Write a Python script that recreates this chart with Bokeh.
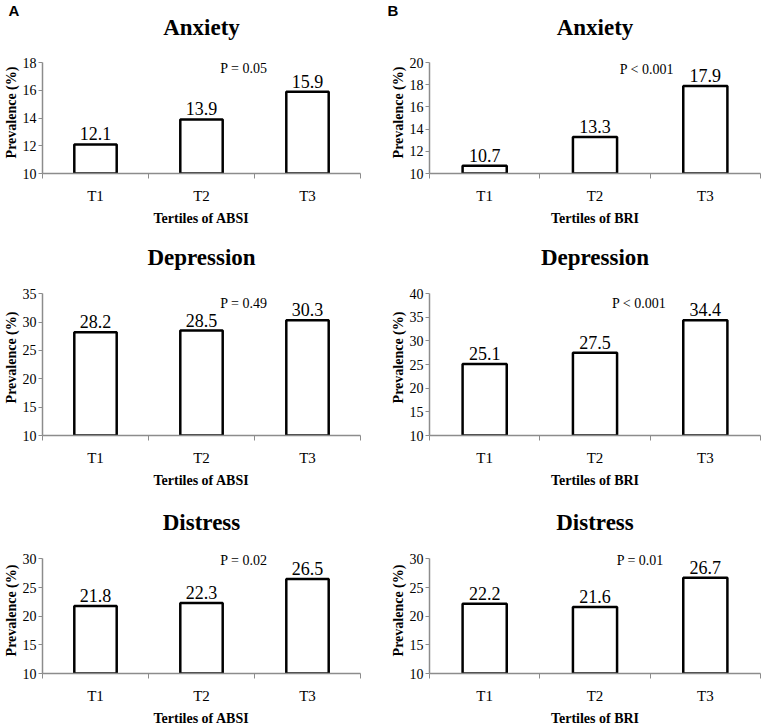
from bokeh.plotting import figure
from bokeh.models import Range1d, FixedTicker, Title, ColumnDataSource, Label
from bokeh.layouts import column, row
from bokeh.embed import file_html
from bokeh.resources import INLINE
from bokeh.core.properties import value

# ---------------- data ----------------
tertiles = ["T1", "T2", "T3"]
outcomes = ["Anxiety", "Depression", "Distress"]

absi_anxiety = [12.1, 13.9, 15.9]
absi_depression = [28.2, 28.5, 30.3]
absi_distress = [21.8, 22.3, 26.5]

bri_anxiety = [10.7, 13.3, 17.9]
bri_depression = [25.1, 27.5, 34.4]
bri_distress = [22.2, 21.6, 26.7]

p_absi = ["P = 0.05", "P = 0.49", "P = 0.02"]
p_bri = ["P < 0.001", "P < 0.001", "P = 0.01"]

y_base = 10
y_max_absi = [18, 35, 30]
y_max_bri = [20, 40, 30]
y_step_absi = [2, 5, 5]
y_step_bri = [2, 5, 5]

# ---------------- layout / style ----------------
SERIF = "Liberation Serif"
AXIS_GREY = "#8c8c8c"
ROW_H = [240, 250, 238]
TOP_B = [51, 39, 57]
BOT_B = [67, 54, 53]
PAD = 0.10                       # empty plot area above the axis top (fraction)
TITLE_STANDOFF = [-10, 0, 0]
SPACER_STANDOFF = [14, 7, 10]    # gap between title and plot area
LETTER_STANDOFF = -3
COL_W = 384
LEFT_B = [36, 45]
RIGHT_B = [24, 8]
P_X = [[1.90, 1.90, 1.90], [1.97, 1.90, 1.91]]
P_YFRAC = [[0.945, 0.93, 0.99], [0.937, 0.93, 0.99]]


def make_panel(ci, ri, title, vals, ptxt, ymax, ystep, xlabel, letter=None):
    n = len(tertiles)
    span = ymax - y_base
    p = figure(width=COL_W, height=ROW_H[ri], output_backend="svg",
               toolbar_location=None, x_range=Range1d(0, n),
               y_range=Range1d(y_base, ymax + PAD * span),
               min_border_left=LEFT_B[ci], min_border_right=RIGHT_B[ci],
               min_border_top=TOP_B[ri], min_border_bottom=BOT_B[ri])
    p.outline_line_color = None
    p.grid.visible = False
    p.background_fill_color = "white"
    p.border_fill_color = "white"

    # empty spacer panel between the plot area and the title
    p.add_layout(Title(text=" ", text_font_size="1px", text_color="white",
                       standoff=SPACER_STANDOFF[ri]), "above")
    p.add_layout(Title(text=title, align="center", standoff=TITLE_STANDOFF[ri],
                       text_font=SERIF, text_font_style="bold",
                       text_font_size="23px", text_color="black"), "above")
    if letter is not None:
        p.add_layout(Title(text=letter, align="left", standoff=LETTER_STANDOFF,
                           offset=-LEFT_B[ci] + (2 if ci == 0 else 3),
                           text_font="Liberation Sans", text_font_style="bold",
                           text_font_size="15px", text_color="black"), "above")

    centers = [i + 0.5 for i in range(n)]
    src = ColumnDataSource(dict(x=centers, top=vals,
                                lab=["%.1f" % v for v in vals]))
    p.vbar(x="x", top="top", bottom=y_base, width=0.4, source=src,
           fill_color="white", line_color="black", line_width=2.5)
    p.text(x="x", y="top", text="lab", source=src, text_align="center",
           text_baseline="bottom", y_offset=-4, text_font=value(SERIF),
           text_font_size="18px", text_color="black")

    py = y_base + P_YFRAC[ci][ri] * span
    p.add_layout(Label(x=P_X[ci][ri], y=py, text=ptxt, text_align="center",
                       text_baseline="middle", text_font=SERIF,
                       text_font_size="14px", text_color="black"))

    xa = p.xaxis[0]
    xa.ticker = FixedTicker(ticks=centers, minor_ticks=list(range(n + 1)))
    xa.major_label_overrides = {c: lab for c, lab in zip(centers, tertiles)}
    xa.major_tick_line_color = None
    xa.major_tick_out = 0
    xa.major_tick_in = 0
    xa.minor_tick_out = 5
    xa.minor_tick_in = 0
    xa.minor_tick_line_color = AXIS_GREY
    xa.axis_line_color = AXIS_GREY
    xa.axis_line_width = 1.5
    xa.major_label_text_font = SERIF
    xa.major_label_text_font_size = "15px"
    xa.major_label_text_color = "black"
    xa.major_label_standoff = 9
    xa.axis_label = xlabel
    xa.axis_label_text_font = SERIF
    xa.axis_label_text_font_style = "bold"
    xa.axis_label_text_font_size = "14px"
    xa.axis_label_text_color = "black"
    xa.axis_label_standoff = 4

    ya = p.yaxis[0]
    ya.bounds = (y_base, ymax)
    ya.ticker = FixedTicker(ticks=list(range(y_base, ymax + 1, ystep)), minor_ticks=[])
    ya.major_tick_out = 4
    ya.major_tick_in = 0
    ya.major_tick_line_color = AXIS_GREY
    ya.minor_tick_line_color = None
    ya.axis_line_color = AXIS_GREY
    ya.axis_line_width = 1.5
    ya.major_label_text_font = SERIF
    ya.major_label_text_font_size = "14px"
    ya.major_label_text_color = "black"
    ya.major_label_standoff = 2
    ya.axis_label = "Prevalence (%)"
    ya.axis_label_text_font = SERIF
    ya.axis_label_text_font_style = "bold"
    ya.axis_label_text_font_size = "14px"
    ya.axis_label_text_color = "black"
    ya.axis_label_standoff = 1
    return p


absi_vals = [absi_anxiety, absi_depression, absi_distress]
bri_vals = [bri_anxiety, bri_depression, bri_distress]

rows = []
for ri, name in enumerate(outcomes):
    pa = make_panel(0, ri, name, absi_vals[ri], p_absi[ri], y_max_absi[ri],
                    y_step_absi[ri], "Tertiles of ABSI", "A" if ri == 0 else None)
    pb = make_panel(1, ri, name, bri_vals[ri], p_bri[ri], y_max_bri[ri],
                    y_step_bri[ri], "Tertiles of BRI", "B" if ri == 0 else None)
    rows.append(row(pa, pb))

layout = column(*rows)
open("out.html", "w").write(file_html(layout, INLINE))
